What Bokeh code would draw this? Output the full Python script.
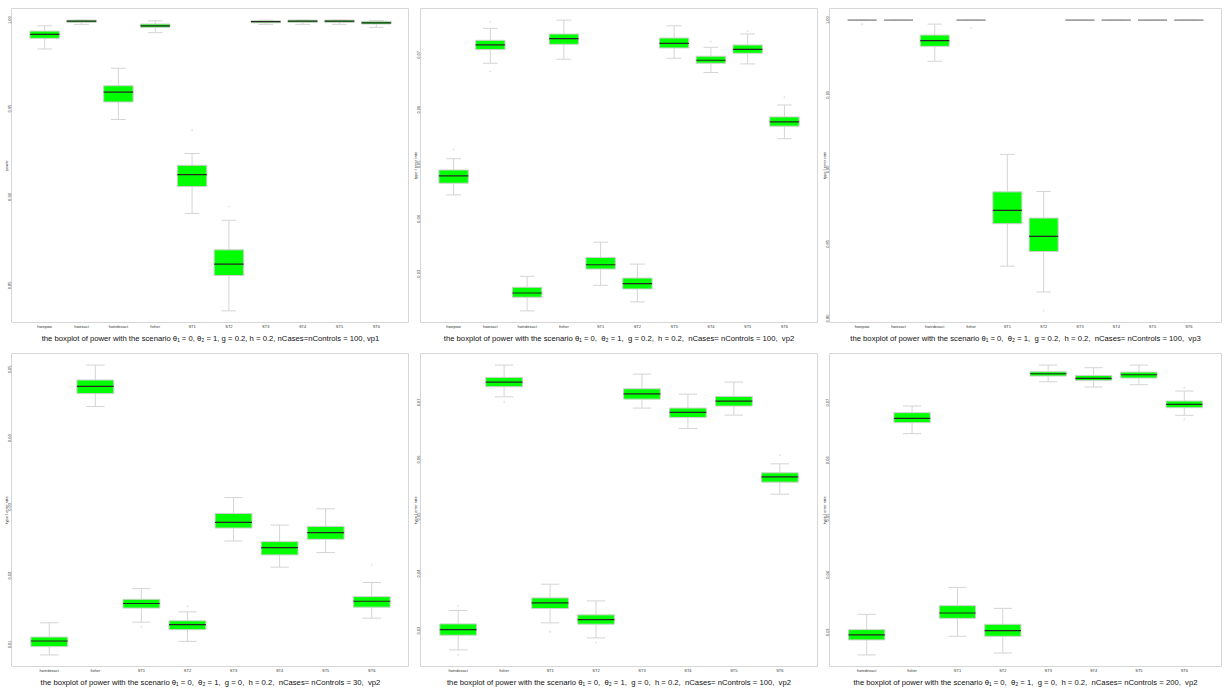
from bokeh.plotting import figure
from bokeh.layouts import column, row
from bokeh.models import Range1d, FixedTicker, ColumnDataSource, NumeralTickFormatter
from bokeh.embed import file_html
from bokeh.resources import INLINE

# ---- categories ----
methods_all = ["hwepow", "hwexact", "hwtrdexact", "fisher", "ST1", "ST2", "ST3", "ST4", "ST5", "ST6"]
methods_sub = ["hwtrdexact", "fisher", "ST1", "ST2", "ST3", "ST4", "ST5", "ST6"]

# ---- scenario vp1 (power) ----
vp1_low  = [0.9837, 0.9976, 0.9438, 0.9929, 0.8907, 0.8356, 0.9976, 0.9976, 0.9976, 0.9959]
vp1_q1   = [0.9897, 0.9987, 0.9537, 0.9959, 0.9059, 0.8556, 0.9985, 0.9987, 0.9987, 0.9978]
vp1_med  = [0.9919, 0.9994, 0.9593, 0.9968, 0.9126, 0.8620, 0.9991, 0.9994, 0.9994, 0.9985]
vp1_q3   = [0.9938, 1.0000, 0.9629, 0.9978, 0.9179, 0.8701, 0.9996, 1.0000, 1.0000, 0.9993]
vp1_high = [0.9968, 1.0000, 0.9728, 0.9996, 0.9246, 0.8868, 1.0000, 1.0000, 1.0000, 0.9998]
vp1_out_x = [5, 6]
vp1_out_y = [0.9378, 0.8946]

# ---- scenario vp2, g = 0.2 ----
vp2_low  = [0.04442, 0.06848, 0.02321, 0.06921, 0.02788, 0.02485, 0.06939, 0.06679, 0.06836, 0.05467]
vp2_q1   = [0.04655, 0.07097, 0.02570, 0.07194, 0.03085, 0.02721, 0.07127, 0.06848, 0.07030, 0.05697]
vp2_med  = [0.04788, 0.07182, 0.02648, 0.07297, 0.03164, 0.02818, 0.07212, 0.06903, 0.07103, 0.05776]
vp2_q3   = [0.04897, 0.07267, 0.02752, 0.07382, 0.03297, 0.02921, 0.07309, 0.06976, 0.07182, 0.05867]
vp2_high = [0.05103, 0.07485, 0.02952, 0.07636, 0.03576, 0.03176, 0.07533, 0.07139, 0.07382, 0.06085]
vp2_out_x = [1, 2, 2, 8, 9, 10]
vp2_out_y = [0.05273, 0.07606, 0.06697, 0.07242, 0.07436, 0.06224]

# ---- scenario vp3 ----
vp3_low  = [1.0, 1.0, 0.97244, 1.0, 0.83511, 0.81778, 1.0, 1.0, 1.0, 1.0]
vp3_q1   = [1.0, 1.0, 0.98244, 1.0, 0.86356, 0.84489, 1.0, 1.0, 1.0, 1.0]
vp3_med  = [1.0, 1.0, 0.98622, 1.0, 0.87244, 0.85511, 1.0, 1.0, 1.0, 1.0]
vp3_q3   = [1.0, 1.0, 0.99000, 1.0, 0.88489, 0.86733, 1.0, 1.0, 1.0, 1.0]
vp3_high = [1.0, 1.0, 0.99733, 1.0, 0.91000, 0.88511, 1.0, 1.0, 1.0, 1.0]
vp3_out_x = [1, 4, 6]
vp3_out_y = [0.99733, 0.99489, 0.80511]

# ---- g = 0, nCases = nControls = 30 ----
n30_low  = [0.00846, 0.04460, 0.01323, 0.01043, 0.02504, 0.02123, 0.02335, 0.01381]
n30_q1   = [0.00966, 0.04648, 0.01527, 0.01213, 0.02692, 0.02301, 0.02528, 0.01540]
n30_med  = [0.01048, 0.04754, 0.01594, 0.01287, 0.02773, 0.02407, 0.02624, 0.01627]
n30_q3   = [0.01106, 0.04846, 0.01655, 0.01342, 0.02904, 0.02494, 0.02716, 0.01694]
n30_high = [0.01313, 0.05063, 0.01810, 0.01472, 0.03135, 0.02735, 0.02971, 0.01900]
n30_out_x = [3, 4, 8]
n30_out_y = [0.01255, 0.01554, 0.02157]

# ---- g = 0, nCases = nControls = 100 ----
n100_low  = [0.02661, 0.07099, 0.03135, 0.02871, 0.06901, 0.06544, 0.06778, 0.05392]
n100_q1   = [0.02918, 0.07275, 0.03386, 0.03111, 0.07058, 0.06737, 0.06936, 0.05602]
n100_med  = [0.03018, 0.07357, 0.03485, 0.03193, 0.07152, 0.06825, 0.07023, 0.05696]
n100_q3   = [0.03117, 0.07439, 0.03573, 0.03275, 0.07240, 0.06901, 0.07105, 0.05766]
n100_high = [0.03351, 0.07655, 0.03813, 0.03520, 0.07497, 0.07146, 0.07357, 0.05924]
n100_out_x = [1, 1, 2, 3, 4, 8]
n100_out_y = [0.03433, 0.02573, 0.07012, 0.02977, 0.02789, 0.06076]

# ---- g = 0, nCases = nControls = 200 ----
n200_low  = [0.02606, 0.06461, 0.02930, 0.02640, 0.07365, 0.07272, 0.07313, 0.06780]
n200_q1   = [0.02867, 0.06652, 0.03243, 0.02930, 0.07464, 0.07388, 0.07429, 0.06913]
n200_med  = [0.02954, 0.06728, 0.03336, 0.03029, 0.07504, 0.07423, 0.07487, 0.06971]
n200_q3   = [0.03046, 0.06826, 0.03464, 0.03139, 0.07539, 0.07475, 0.07533, 0.07029]
n200_high = [0.03313, 0.06942, 0.03783, 0.03417, 0.07655, 0.07609, 0.07655, 0.07203]
n200_out_x = [8, 8]
n200_out_y = [0.07261, 0.06710]

# ---- axis ticks ----
ticks_vp1 = [0.85, 0.90, 0.95, 1.00]
ticks_vp2 = [0.03, 0.04, 0.05, 0.06, 0.07]
ticks_vp3 = [0.80, 0.85, 0.90, 0.95, 1.00]
ticks_n30 = [0.01, 0.02, 0.03, 0.04, 0.05]
ticks_n100 = [0.03, 0.04, 0.05, 0.06, 0.07]
ticks_n200 = [0.03, 0.04, 0.05, 0.06, 0.07]

SEP = ",\u00a0 "
titles = [
    "the boxplot of power with the scenario \u03b8\u2081 = 0, \u03b8\u2082 = 1, g = 0.2, h = 0.2, nCases=nControls = 100, vp1",
    SEP.join(["the boxplot of power with the scenario \u03b8\u2081 = 0", "\u03b8\u2082 = 1", "g = 0.2",
              "h = 0.2", "nCases= nControls = 100", "vp2"]),
    SEP.join(["the boxplot of power with the scenario \u03b8\u2081 = 0", "\u03b8\u2082 = 1", "g = 0.2",
              "h = 0.2", "nCases= nControls = 100", "vp3"]),
    SEP.join(["the boxplot of power with the scenario \u03b8\u2081 = 0", "\u03b8\u2082 = 1", "g = 0",
              "h = 0.2", "nCases= nControls = 30", "vp2"]),
    SEP.join(["the boxplot of power with the scenario \u03b8\u2081 = 0", "\u03b8\u2082 = 1", "g = 0",
              "h = 0.2", "nCases= nControls = 100", "vp2"]),
    SEP.join(["the boxplot of power with the scenario \u03b8\u2081 = 0", "\u03b8\u2082 = 1", "g = 0",
              "h = 0.2", "nCases= nControls = 200", "vp2"]),
]

FONT = "Liberation Sans"
BOX_FILL = "#00ff00"
WHISKER = "#d4d4d4"
FRAME = "#d6d6d6"


def boxplot_panel(cats, low, q1, med, q3, high, out_x, out_y, yticks, ylabel, title,
                  width, height, left, right):
    n = len(cats)
    xs = list(range(1, n + 1))
    ymin = min(low + out_y)
    ymax = max(high + out_y)
    ypad = 0.04 * (ymax - ymin)
    xpad = 0.04 * n

    p = figure(width=width, height=height, output_backend="svg", toolbar_location=None,
               x_range=Range1d(0.5 - xpad, n + 0.5 + xpad),
               y_range=Range1d(ymin - ypad, ymax + ypad),
               min_border_left=left, min_border_right=right,
               min_border_top=8, min_border_bottom=0,
               background_fill_color="white", border_fill_color="white")
    p.grid.visible = False
    p.outline_line_color = FRAME
    p.outline_line_width = 1

    # a box squeezed to a single value reads as a grey rule
    med_color = ["#262626" if b > a else "#8f8f8f" for a, b in zip(q1, q3)]
    src = ColumnDataSource(dict(
        x=xs, low=low, q1=q1, med=med, q3=q3, high=high, med_color=med_color,
        cap_l=[x - 0.2 for x in xs], cap_r=[x + 0.2 for x in xs],
        box_l=[x - 0.4 for x in xs], box_r=[x + 0.4 for x in xs],
    ))

    # whiskers and caps
    p.segment(x0="x", y0="q3", x1="x", y1="high", source=src, line_color=WHISKER, line_width=1)
    p.segment(x0="x", y0="q1", x1="x", y1="low", source=src, line_color=WHISKER, line_width=1)
    p.segment(x0="cap_l", y0="high", x1="cap_r", y1="high", source=src, line_color=WHISKER, line_width=1)
    p.segment(x0="cap_l", y0="low", x1="cap_r", y1="low", source=src, line_color=WHISKER, line_width=1)

    # boxes and medians
    p.vbar(x="x", width=0.8, top="q3", bottom="q1", source=src,
           fill_color=BOX_FILL, line_color="#cfcfcf", line_width=1)
    p.segment(x0="box_l", y0="med", x1="box_r", y1="med", source=src,
              line_color="med_color", line_width=1.2)

    if out_x:
        p.scatter(out_x, out_y, size=1.2, color="#e6e6e6")

    # axes
    p.xaxis.ticker = FixedTicker(ticks=xs)
    p.xaxis.major_label_overrides = {x: c for x, c in zip(xs, cats)}
    p.xaxis.major_label_text_font_size = "4px"
    p.xaxis.major_label_text_font = FONT
    p.xaxis.major_label_text_color = "#333333"
    p.xaxis.major_label_standoff = 1
    p.xaxis.axis_label = title
    p.xaxis.axis_label_text_font = FONT
    p.xaxis.axis_label_text_font_size = "7.7px"
    p.xaxis.axis_label_text_font_style = "normal"
    p.xaxis.axis_label_text_color = "#111111"
    p.xaxis.axis_label_standoff = 2

    p.yaxis.ticker = FixedTicker(ticks=yticks)
    p.yaxis.formatter = NumeralTickFormatter(format="0.00")
    p.yaxis.major_label_orientation = "vertical"
    p.yaxis.major_label_text_font_size = "4px"
    p.yaxis.major_label_text_font = FONT
    p.yaxis.major_label_text_color = "#333333"
    p.yaxis.major_label_standoff = 0
    p.yaxis.axis_label = ylabel
    p.yaxis.axis_label_text_font = FONT
    p.yaxis.axis_label_text_font_size = "4px"
    p.yaxis.axis_label_text_font_style = "normal"
    p.yaxis.axis_label_text_color = "#333333"
    p.yaxis.axis_label_standoff = -3

    for ax in (p.xaxis, p.yaxis):
        ax.axis_line_color = None
        ax.major_tick_line_color = None
        ax.minor_tick_line_color = None
        ax.major_tick_out = 0
        ax.major_tick_in = 0
    return p


p1 = boxplot_panel(methods_all, vp1_low, vp1_q1, vp1_med, vp1_q3, vp1_high, vp1_out_x, vp1_out_y,
                   ticks_vp1, "power", titles[0], 409, 345, 0, 0)
p2 = boxplot_panel(methods_all, vp2_low, vp2_q1, vp2_med, vp2_q3, vp2_high, vp2_out_x, vp2_out_y,
                   ticks_vp2, "type I error rate", titles[1], 409, 345, 0, 1)
p3 = boxplot_panel(methods_all, vp3_low, vp3_q1, vp3_med, vp3_q3, vp3_high, vp3_out_x, vp3_out_y,
                   ticks_vp3, "type I error rate", titles[2], 410, 345, 0, 7)
p4 = boxplot_panel(methods_sub, n30_low, n30_q1, n30_med, n30_q3, n30_high, n30_out_x, n30_out_y,
                   ticks_n30, "type I error rate", titles[3], 409, 344, 0, 0)
p5 = boxplot_panel(methods_sub, n100_low, n100_q1, n100_med, n100_q3, n100_high, n100_out_x, n100_out_y,
                   ticks_n100, "type I error rate", titles[4], 409, 344, 0, 1)
p6 = boxplot_panel(methods_sub, n200_low, n200_q1, n200_med, n200_q3, n200_high, n200_out_x, n200_out_y,
                   ticks_n200, "type I error rate", titles[5], 410, 344, 0, 7)

layout = column(row(p1, p2, p3), row(p4, p5, p6))
open("out.html", "w").write(file_html(layout, INLINE))
